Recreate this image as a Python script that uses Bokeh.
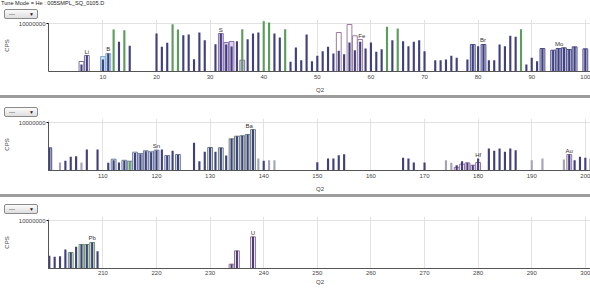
from bokeh.plotting import figure
from bokeh.models import Range1d, FixedTicker, BasicTickFormatter, Spacer, Div, ColumnDataSource
from bokeh.layouts import column
from bokeh.embed import file_html
from bokeh.resources import INLINE
from bokeh.core.properties import value

TITLE = "Tune Mode = He : 005SMPL_SQ_0105.D"
X_LABEL = "Q2"
Y_LABEL = "CPS"
DROPDOWN_TEXT = "---"
Y_TICKS = [10000000]
PANEL_RANGES = [(0, 101), (100, 201), (200, 301)]
PANEL_TICKS = [
    [10, 20, 30, 40, 50, 60, 70, 80, 90, 100],
    [110, 120, 130, 140, 150, 160, 170, 180, 190, 200],
    [210, 220, 230, 240, 250, 260, 270, 280, 290, 300],
]

# ---- dark (analyte) peaks, m/z and counts per second ----
P1_MASS = [6, 7, 10, 11, 13, 15, 20, 21, 22, 25, 26, 27, 28, 29, 31, 32, 33, 34, 35, 37,
           38, 39, 42, 43, 45, 46, 47, 48, 49, 50, 51, 52, 53, 54, 55, 56, 57, 58, 59, 60,
           61, 62, 64, 66, 67, 68, 69, 70, 72, 73, 74, 75, 76, 78, 79, 80, 81, 82, 83, 84,
           85, 86, 87, 89, 90, 91, 92, 94, 95, 96, 97, 98, 100]
P1_CPS = [75, 1000, 316, 1780, 5.1e4, 1.6e4, 5.6e5, 1.2e4, 3.9e4, 3.5e5, 4.2e5, 350, 7.5e5, 8.1e4, 2.6e4, 5.6e5, 2.3e4, 1.3e4, 6.2e4, 1.1e5,
          5.6e5, 7.5e5, 5.6e5, 1.8e5, 160, 1.0e4, 260, 4.2e5, 190, 920, 3500, 1.2e4, 1800, 3900, 1450, 4.2e4, 4600, 5.1e4, 7500, 4.2e4,
          2900, 6200, 8.1e4, 6.2e4, 1.45e4, 5.1e4, 8.1e4, 3500, 260, 260, 316, 920, 520, 316, 2.4e4, 1.45e4, 2.4e4, 260, 260, 2.4e4,
          1.45e4, 2.9e5, 2.2e5, 75, 520, 190, 7500, 4600, 7500, 9100, 5600, 1.2e4, 6800]

P2_MASS = [103, 104, 105, 107, 109, 111, 112, 113, 114, 116, 117, 118, 119, 120, 121, 122, 123, 124, 127, 128,
           129, 130, 131, 132, 133, 134, 135, 136, 137, 138, 140, 150, 152, 153, 154, 155, 166, 167, 168, 170,
           176, 177, 178, 179, 180, 182, 183, 184, 185, 186, 187, 197, 198, 199, 200, 201]
P2_CPS = [160, 520, 620, 4200, 4200, 90, 190, 100, 160, 1500, 1100, 2500, 1900, 3200, 4200, 650, 2900, 900, 2.9e4, 145,
          2200, 7500, 2200, 6900, 750, 9.1e4, 1.95e5, 2.2e5, 3.2e5, 1.3e6, 160, 110, 316, 316, 820, 1100, 390, 316, 100, 100,
          46, 145, 90, 46, 316, 5600, 2900, 5600, 2200, 5600, 3500, 1000, 190, 520, 400, 300]

P3_MASS = [202, 203, 204, 205, 206, 207, 208, 209, 234, 235, 238]
P3_CPS = [350, 2400, 1000, 5100, 1.0e4, 1.0e4, 1.8e4, 1450, 35, 1600, 9.1e4]

# ---- interference / excluded masses ----
GREEN_MASS = [12, 14, 23, 24, 36, 40, 41, 44, 63, 65, 88, 115]
GREEN_CPS = [1.8e6, 1.45e6, 8.2e6, 1.8e6, 1.9e6, 1.9e7, 1.3e7, 1.9e6, 3.9e6, 2.4e6, 1.9e6, 145]

GRAY_MASS = [102, 106, 139, 141, 142, 174, 175, 190, 192, 196]
GRAY_CPS = [100, 100, 316, 190, 190, 190, 90, 190, 316, 240]

# ---- isotope pattern boxes per element ----
LI_MASS = [6, 7]
LI_CPS = [178, 1000]
B_MASS = [10, 11]
B_CPS = [750, 1780]
S_MASS = [32, 33, 34, 36]
S_CPS = [5.6e5, 4.2e4, 5.6e4, 260]
FE_MASS = [54, 56, 57, 58]
FE_CPS = [7.5e5, 7.5e6, 2.9e5, 1.0e5]
BR_MASS = [79, 81]
BR_CPS = [2.4e4, 2.4e4]
MO_MASS = [92, 94, 95, 96, 97, 98, 100]
MO_CPS = [7500, 4600, 7500, 9100, 5600, 1.2e4, 6800]
SN_MASS = [112, 114, 115, 116, 117, 118, 119, 120, 122, 124]
SN_CPS = [260, 190, 145, 1950, 1300, 2900, 2200, 3500, 750, 1000]
BA_MASS = [130, 132, 134, 135, 136, 137, 138]
BA_CPS = [7500, 6900, 9.1e4, 1.95e5, 2.2e5, 3.2e5, 1.3e6]
HF_MASS = [176, 177, 178, 179, 180]
HF_CPS = [25, 62, 90, 46, 100]
AU_MASS = [197]
AU_CPS = [1000]
PB_MASS = [204, 206, 207, 208]
PB_CPS = [1000, 1.0e4, 1.0e4, 1.8e4]
U_MASS = [234, 235, 238]
U_CPS = [35, 1600, 9.1e4]

LABEL_TEXT = ["Li", "B", "S", "Fe", "Br", "Mo", "Sn", "Ba", "Hf", "Au", "Pb", "U"]
LABEL_MASS = [7, 11, 32, 58.3, 80.9, 95.1, 120, 137.3, 180, 197, 208, 238]
LABEL_CPS = [1000, 1780, 5.6e5, 1.0e5, 2.4e4, 7500, 3500, 1.3e6, 316, 1000, 1.8e4, 9.1e4]

# styles (fill, line) for each element group
BOX_STYLE = {
    "Li": ("#ffffff", "#7c6c9c"),
    "B": ("#c4def2", "#86aed0"),
    "S": ("#dcd2ec", "#8c70ac"),
    "Fe": ("#ffffff", "#9c7c9c"),
    "Br": ("#d6d6ec", "#50508c"),
    "Mo": ("#d6d6ec", "#50508c"),
    "Sn": ("#e0e8ee", "#6c7c9c"),
    "Ba": ("#e2ebe6", "#6c8480"),
    "Hf": ("#ffffff", "#9c6ca4"),
    "Au": ("#efe8ef", "#9c7c9c"),
    "Pb": ("#dfeadf", "#6c9a6c"),
    "U": ("#ffffff", "#9c6c8c"),
}
GROUPS = [("Li", LI_MASS, LI_CPS), ("B", B_MASS, B_CPS), ("S", S_MASS, S_CPS),
          ("Fe", FE_MASS, FE_CPS), ("Br", BR_MASS, BR_CPS), ("Mo", MO_MASS, MO_CPS),
          ("Sn", SN_MASS, SN_CPS), ("Ba", BA_MASS, BA_CPS), ("Hf", HF_MASS, HF_CPS),
          ("Au", AU_MASS, AU_CPS), ("Pb", PB_MASS, PB_CPS), ("U", U_MASS, U_CPS)]

DARK = "#40407e"
GREEN = "#5c9c5c"
GRAY = "#a4a4b6"
FONT = "Liberation Sans"
BASE = 10
TOP = 10 ** 7.5

dark_src = ColumnDataSource(dict(x=P1_MASS + P2_MASS + P3_MASS, top=P1_CPS + P2_CPS + P3_CPS))
green_src = ColumnDataSource(dict(x=GREEN_MASS, top=GREEN_CPS))
gray_src = ColumnDataSource(dict(x=GRAY_MASS, top=GRAY_CPS))
group_src = {name: ColumnDataSource(dict(x=m, top=c)) for name, m, c in GROUPS}

# geometry per panel: header height, dropdown top, border top, border bottom, x-label standoff
GEOM = [(19, 9, 0, 22, 5), (20, 9, 0, 22, 5), (19, 7, 0, 18, 1)]


def header(i):
    hh, dd_top, _, _, _ = GEOM[i]
    html = ""
    if i == 0:
        html += ('<div style="position:absolute;left:1px;top:0px;white-space:nowrap;'
                 f'font-family:\'{FONT}\';font-size:5.6px;line-height:7px;color:#222222">{TITLE}</div>')
    html += ('<div style="position:absolute;left:4px;top:%dpx;width:34px;height:10px;box-sizing:border-box;'
             'border:1px solid #8a8a8a;border-radius:2px;background:linear-gradient(#fbfbfb,#dedede);'
             "font-family:'%s';font-size:6px;line-height:8px;color:#222222;padding-left:4px\">%s"
             '<span style="position:absolute;right:3px;top:0px;font-size:5px;line-height:8px">\u25bc</span></div>'
             % (dd_top, FONT, DROPDOWN_TEXT))
    return Div(text=html, width=590, height=hh, margin=0,
               styles={"position": "relative", "overflow": "hidden", "background-color": "white"})


def make_panel(i):
    _, _, btop, bbot, xls = GEOM[i]
    x0, x1 = PANEL_RANGES[i]
    p = figure(frame_width=543, frame_height=52, output_backend="svg", toolbar_location=None,
               x_range=Range1d(x0 - 0.15, x1 + 0.15), y_range=Range1d(BASE, TOP),
               y_axis_type="log", min_border_left=45, min_border_right=2,
               min_border_top=btop, min_border_bottom=bbot,
               background_fill_color="white", border_fill_color="white")
    p.outline_line_color = None

    for name, _, _ in GROUPS:
        fill, line = BOX_STYLE[name]
        p.vbar(x="x", top="top", bottom=BASE, width=0.9, source=group_src[name],
               fill_color=fill, line_color=line, line_width=1)
    p.vbar(x="x", top="top", bottom=BASE, width=0.4, source=gray_src,
           fill_color=GRAY, line_color=None)
    p.vbar(x="x", top="top", bottom=BASE, width=0.4, source=dark_src,
           fill_color=DARK, line_color=None)
    p.vbar(x="x", top="top", bottom=BASE, width=0.4, source=green_src,
           fill_color=GREEN, line_color=None)

    keep = [k for k, m in enumerate(LABEL_MASS) if x0 <= m <= x1]
    lab = ColumnDataSource(dict(x=[LABEL_MASS[k] for k in keep],
                                y=[LABEL_CPS[k] for k in keep],
                                t=[LABEL_TEXT[k] for k in keep]))
    p.text(x="x", y="y", text="t", source=lab, text_font=value(FONT),
           text_font_size="6px", text_color="#333333", text_align="center",
           text_baseline="bottom", y_offset=-1)

    ax = p.xaxis[0]
    ax.ticker = FixedTicker(ticks=PANEL_TICKS[i])
    ax.major_label_text_font = FONT
    ax.major_label_text_font_size = "6px"
    ax.major_label_text_color = "#444444"
    ax.major_label_standoff = 3 if i < 2 else 2
    ax.major_tick_in = 0
    ax.major_tick_out = 0
    ax.minor_tick_line_color = None
    ax.axis_line_color = "#555555"
    ax.axis_label = X_LABEL
    ax.axis_label_text_font = FONT
    ax.axis_label_text_font_size = "6px"
    ax.axis_label_text_font_style = "normal"
    ax.axis_label_text_color = "#444444"
    ax.axis_label_standoff = xls

    ay = p.yaxis[0]
    ay.ticker = FixedTicker(ticks=Y_TICKS)
    ay.formatter = BasicTickFormatter(use_scientific=False)
    ay.bounds = (BASE, Y_TICKS[0])
    ay.major_label_text_font = FONT
    ay.major_label_text_font_size = "6px"
    ay.major_label_text_color = "#444444"
    ay.major_label_standoff = 1
    ay.major_tick_in = 0
    ay.major_tick_out = 2
    ay.minor_tick_line_color = None
    ay.axis_line_color = "#555555"
    ay.axis_label = Y_LABEL
    ay.axis_label_text_font = FONT
    ay.axis_label_text_font_size = "6px"
    ay.axis_label_text_font_style = "normal"
    ay.axis_label_text_color = "#444444"
    ay.axis_label_standoff = 6

    p.xgrid.ticker = FixedTicker(ticks=PANEL_TICKS[i])
    p.xgrid.grid_line_color = "#e2e2e2"
    p.ygrid.grid_line_color = "#e2e2e2"
    return p


items = []
for i in range(3):
    if i > 0:
        items.append(Spacer(width=590, height=3, margin=0, styles={"background-color": "#9c9c9c"}))
    items.append(header(i))
    items.append(make_panel(i))
layout = column(*items, spacing=0)

open("out.html", "w").write(file_html(layout, INLINE))
